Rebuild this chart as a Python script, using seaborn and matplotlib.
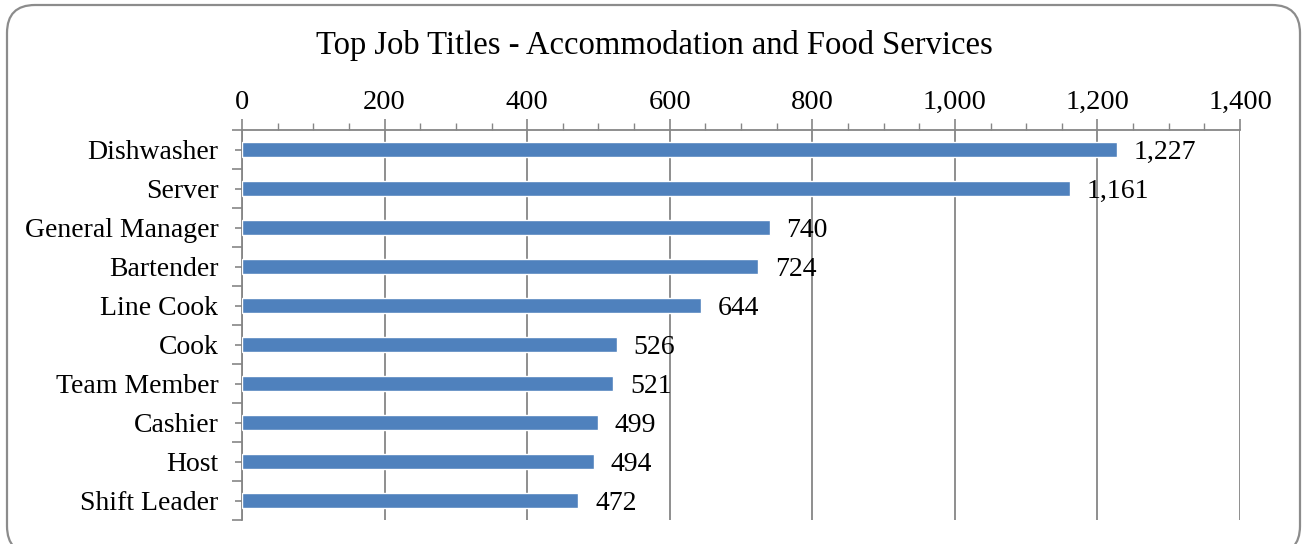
import numpy as np
import pandas as pd
import matplotlib
matplotlib.use("Agg")
import matplotlib.pyplot as plt
from matplotlib.ticker import MultipleLocator, FixedLocator, FuncFormatter
from matplotlib.patches import FancyBboxPatch
from matplotlib.transforms import IdentityTransform
import seaborn as sns

# data
titles = ['Dishwasher', 'Server', 'General Manager', 'Bartender', 'Line Cook',
          'Cook', 'Team Member', 'Cashier', 'Host', 'Shift Leader']
counts = [1227, 1161, 740, 724, 644, 526, 521, 499, 494, 472]
x_ticks = [0, 200, 400, 600, 800, 1000, 1200, 1400]

df = pd.DataFrame({'title': titles, 'count': counts})

sns.set_style("white")
plt.rcParams['font.family'] = ['Liberation Serif', 'DejaVu Serif']
plt.rcParams['text.color'] = 'black'
plt.rcParams['xtick.labelcolor'] = 'black'
plt.rcParams['ytick.labelcolor'] = 'black'

BLUE = '#4F81BD'
GRAY = '#868686'

fig = plt.figure(figsize=(13.02, 5.44), dpi=100)
ax = fig.add_axes([242/1302, 1 - 520/544, (1240 - 242)/1302, (520 - 130)/544])

sns.barplot(data=df, y='title', x='count', orient='h', color=BLUE,
            width=0.4, saturation=1, ax=ax, zorder=3)

ax.set_xlim(0, 1400)
ax.set_ylim(len(titles) - 0.5, -0.5)
ax.xaxis.tick_top()
ax.xaxis.set_major_locator(FixedLocator(x_ticks))
ax.xaxis.set_minor_locator(MultipleLocator(50))
ax.xaxis.set_major_formatter(FuncFormatter(lambda v, p: f'{int(v):,}'))
ax.tick_params(axis='x', which='major', direction='out', length=8, width=1.2,
               color=GRAY, labelsize=20.5, pad=3)
ax.tick_params(axis='x', which='minor', direction='out', length=5, width=1,
               color=GRAY, top=True)
ax.grid(axis='x', which='major', color=GRAY, linewidth=1.3, zorder=0)
ax.set_axisbelow(True)

ax.yaxis.set_minor_locator(FixedLocator(np.arange(-0.5, len(titles), 1.0)))
ax.tick_params(axis='y', which='major', direction='inout', length=10, width=1.2,
               color=GRAY, labelsize=20, pad=12, left=True)
ax.tick_params(axis='y', which='minor', direction='out', length=7, width=1.2,
               color=GRAY, left=True)

for s in ['bottom', 'right']:
    ax.spines[s].set_visible(False)
for s in ['top', 'left']:
    ax.spines[s].set_color(GRAY)
    ax.spines[s].set_linewidth(1.3)

ax.set_xlabel('')
ax.set_ylabel('')

for i, v in enumerate(counts):
    ax.annotate(f'{v:,}', (v, i), xytext=(12, -2), textcoords='offset points',
                va='center', ha='left', fontsize=20, zorder=4)

fig.text(0.5027, 0.917, 'Top Job Titles - Accommodation and Food Services',
         ha='center', va='center', fontsize=23.5)

# rounded chart border, in pixels (bottom edge runs past the image)
frame = FancyBboxPatch((7, -10), 1293, 549,
                       boxstyle='round,pad=0,rounding_size=28',
                       transform=IdentityTransform(), fill=False,
                       edgecolor='#8c8c8c', linewidth=1.6)
fig.patches.append(frame)

fig.savefig('out.png', dpi=100)
